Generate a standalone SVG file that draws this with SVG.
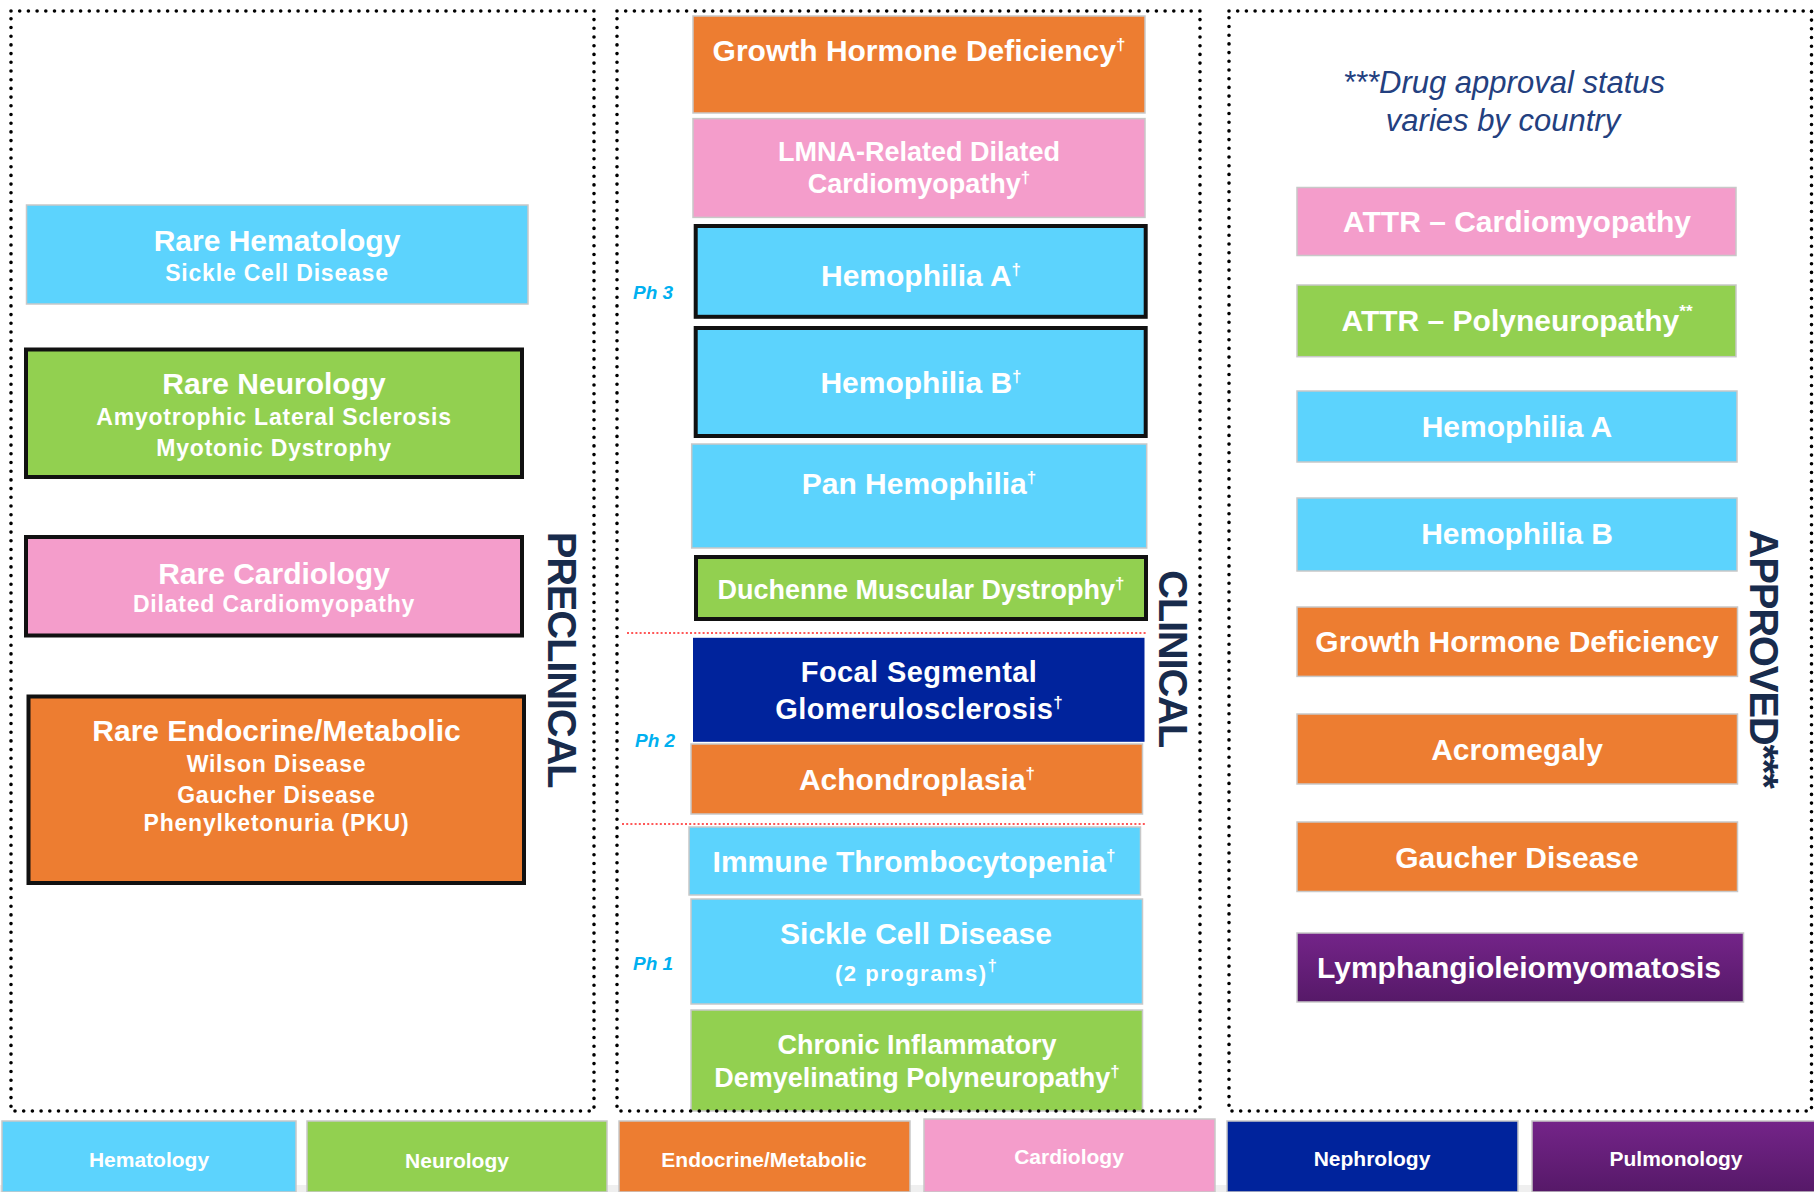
<svg xmlns="http://www.w3.org/2000/svg" width="1814" height="1192" viewBox="0 0 1814 1192">
<defs>
<style>
.t{font-family:"Liberation Sans",Arial,sans-serif;font-weight:bold;fill:#fff;text-anchor:middle;font-size:30px}
.s27{font-size:27px}
.s29{font-size:29px;letter-spacing:0.4px}
.s21{font-size:22px;letter-spacing:1.5px}
.sub{font-size:23px;letter-spacing:0.8px}
.lg{font-size:21px}
.sup{font-size:17px;letter-spacing:0}
.bk{stroke:#111;stroke-width:4}
.lt{stroke:#C8C8C8;stroke-width:1.5}
.blue{fill:#5CD3FD}
.green{fill:#92D050}
.orange{fill:#ED7D31}
.pink{fill:#F49DCB}
.navy{fill:#00239C}
.purple{fill:url(#pg)}
.ph{font-family:"Liberation Sans",Arial,sans-serif;font-weight:bold;font-style:italic;font-size:19px;fill:#00B0F0}
.vt{font-family:"Liberation Sans",Arial,sans-serif;font-weight:bold;font-size:40px;fill:#182B4C;letter-spacing:-1.2px;text-anchor:middle}
.note{font-family:"Liberation Sans",Arial,sans-serif;font-style:italic;font-size:31px;fill:#23407F;text-anchor:middle}
.dotbox{fill:none;stroke:#000;stroke-width:3.6;stroke-dasharray:0 8.7;stroke-linecap:round}
.red{stroke:#FF2020;stroke-width:1.6;stroke-dasharray:2 2.2;fill:none}
</style>
<linearGradient id="pg" x1="0" y1="0" x2="0" y2="1">
<stop offset="0" stop-color="#742489"/>
<stop offset="1" stop-color="#561968"/>
</linearGradient>
</defs>
<rect width="1814" height="1192" fill="#fff"/>

<g id="preclinical">
<g id="pre-hematology">
<rect class="blue lt" x="26.5" y="205" width="501.5" height="99"/>
<text class="t" x="277" y="251">Rare Hematology</text>
<text class="t sub" x="277" y="281">Sickle Cell Disease</text>
</g>
<g id="pre-neurology">
<rect class="green bk" x="26" y="349.5" width="496" height="127.5"/>
<text class="t" x="274" y="394">Rare Neurology</text>
<text class="t sub" x="274" y="425">Amyotrophic Lateral Sclerosis</text>
<text class="t sub" x="274" y="456">Myotonic Dystrophy</text>
</g>
<g id="pre-cardiology">
<rect class="pink bk" x="26" y="537" width="496" height="98.5"/>
<text class="t" x="274" y="584">Rare Cardiology</text>
<text class="t sub" x="274" y="612">Dilated Cardiomyopathy</text>
</g>
<g id="pre-endocrine">
<rect class="orange bk" x="28.5" y="696.5" width="495.5" height="186.5"/>
<text class="t" x="276.5" y="741">Rare Endocrine/Metabolic</text>
<text class="t sub" x="276.5" y="772">Wilson Disease</text>
<text class="t sub" x="276.5" y="802.5">Gaucher Disease</text>
<text class="t sub" x="276.5" y="831">Phenylketonuria (PKU)</text>
</g>
<text class="vt" transform="translate(548,659.5) rotate(90)">PRECLINICAL</text>
</g>

<g id="clinical">
<g id="cl-ghd">
<rect class="orange lt" x="693" y="16" width="452" height="97"/>
<text class="t" x="919" y="60.5">Growth Hormone Deficiency<tspan class="sup" dy="-11">†</tspan></text>
</g>
<g id="cl-lmna">
<rect class="pink lt" x="693" y="118.6" width="452" height="98.8"/>
<text class="t s27" x="919" y="161">LMNA-Related Dilated</text>
<text class="t s27" x="919" y="193">Cardiomyopathy<tspan class="sup" dy="-10">†</tspan></text>
</g>
<g id="cl-hema">
<rect class="blue bk" x="695.7" y="226" width="450" height="90.8"/>
<text class="t" x="921" y="286">Hemophilia A<tspan class="sup" dy="-11">†</tspan></text>
</g>
<g id="cl-hemb">
<rect class="blue bk" x="695.7" y="328" width="450" height="108"/>
<text class="t" x="921" y="393">Hemophilia B<tspan class="sup" dy="-11">†</tspan></text>
</g>
<g id="cl-panhem">
<rect class="blue lt" x="691.7" y="444" width="455" height="104"/>
<text class="t" x="919" y="494">Pan Hemophilia<tspan class="sup" dy="-11">†</tspan></text>
</g>
<g id="cl-dmd">
<rect class="green bk" x="696" y="557" width="450" height="62"/>
<text class="t s27" x="921" y="599">Duchenne Muscular Dystrophy<tspan class="sup" dy="-10">†</tspan></text>
</g>
<g id="cl-fsgs">
<rect class="navy" x="693" y="637.8" width="451.5" height="104"/>
<text class="t s29" x="919" y="682">Focal Segmental</text>
<text class="t s29" x="919" y="718.6">Glomerulosclerosis<tspan class="sup" dy="-11">†</tspan></text>
</g>
<g id="cl-achon">
<rect class="orange lt" x="691" y="744" width="451.5" height="70"/>
<text class="t" x="917" y="790">Achondroplasia<tspan class="sup" dy="-11">†</tspan></text>
</g>
<g id="cl-itp">
<rect class="blue lt" x="689" y="827" width="451.5" height="68"/>
<text class="t" x="914" y="872">Immune Thrombocytopenia<tspan class="sup" dy="-11">†</tspan></text>
</g>
<g id="cl-scd">
<rect class="blue lt" x="691" y="899" width="451.5" height="105"/>
<text class="t" x="916" y="944">Sickle Cell Disease</text>
<text class="t s21" x="916" y="981">(2 programs)<tspan class="sup" dy="-10">†</tspan></text>
</g>
<g id="cl-cidp">
<rect class="green lt" x="691" y="1010" width="451.5" height="101"/>
<text class="t s27" x="917" y="1054">Chronic Inflammatory</text>
<text class="t s27" x="917" y="1087">Demyelinating Polyneuropathy<tspan class="sup" dy="-10">†</tspan></text>
</g>
<text class="ph" x="633" y="298.5">Ph 3</text>
<text class="ph" x="635" y="747">Ph 2</text>
<text class="ph" x="633" y="970">Ph 1</text>
<text class="vt" transform="translate(1159,658.5) rotate(90)">CLINICAL</text>
</g>

<g id="approved">
<text class="note" x="1504" y="92.6">***Drug approval status</text>
<text class="note" x="1503" y="131">varies by country</text>
<g id="ap-attr-cm">
<rect class="pink lt" x="1297" y="187.5" width="439" height="68"/>
<text class="t" x="1517" y="231.5">ATTR – Cardiomyopathy</text>
</g>
<g id="ap-attr-pn">
<rect class="green lt" x="1297" y="285" width="439" height="71.7"/>
<text class="t" x="1517" y="331">ATTR – Polyneuropathy<tspan class="sup" dy="-14">**</tspan></text>
</g>
<g id="ap-hema">
<rect class="blue lt" x="1297" y="391" width="440" height="71"/>
<text class="t" x="1517" y="437">Hemophilia A</text>
</g>
<g id="ap-hemb">
<rect class="blue lt" x="1297" y="498" width="440" height="73"/>
<text class="t" x="1517" y="544">Hemophilia B</text>
</g>
<g id="ap-ghd">
<rect class="orange lt" x="1297" y="607" width="440.5" height="69.4"/>
<text class="t" x="1517" y="652">Growth Hormone Deficiency</text>
</g>
<g id="ap-acro">
<rect class="orange lt" x="1297" y="714" width="440.5" height="70"/>
<text class="t" x="1517" y="760">Acromegaly</text>
</g>
<g id="ap-gaucher">
<rect class="orange lt" x="1297" y="822" width="440.5" height="69.5"/>
<text class="t" x="1517" y="868">Gaucher Disease</text>
</g>
<g id="ap-lam">
<rect class="purple lt" x="1297" y="933" width="446.5" height="69"/>
<text class="t" x="1519" y="978">Lymphangioleiomyomatosis</text>
</g>
<text class="vt" transform="translate(1749.5,658.5) rotate(90)">APPROVED***</text>
</g>

<g id="connectors">
<line class="red" x1="627" y1="633" x2="1146" y2="633"/>
<line class="red" x1="622" y1="824" x2="1146" y2="824"/>
</g>

<g id="containers">
<rect class="dotbox" x="11" y="11" width="583" height="1100"/>
<rect class="dotbox" x="617" y="11" width="583" height="1100"/>
<rect class="dotbox" x="1229" y="11" width="582.5" height="1100"/>
</g>

<g id="legend">
<rect x="0" y="1185" width="1814" height="7" fill="#EFEFEF"/>
<g id="lg-hematology">
<rect class="blue lt" x="2" y="1121" width="294" height="71"/>
<text class="t lg" x="149" y="1167">Hematology</text>
</g>
<g id="lg-neurology">
<rect class="green lt" x="307" y="1121" width="300" height="71"/>
<text class="t lg" x="457" y="1168">Neurology</text>
</g>
<g id="lg-endocrine">
<rect class="orange lt" x="619" y="1121" width="291" height="71"/>
<text class="t lg" x="764" y="1166.5">Endocrine/Metabolic</text>
</g>
<g id="lg-cardiology">
<rect class="pink lt" x="924" y="1119" width="291" height="73"/>
<text class="t lg" x="1069" y="1164">Cardiology</text>
</g>
<g id="lg-nephrology">
<rect class="navy lt" x="1227" y="1121" width="291" height="71"/>
<text class="t lg" x="1372" y="1166">Nephrology</text>
</g>
<g id="lg-pulmonology">
<rect class="purple lt" x="1532" y="1121" width="284" height="71"/>
<text class="t lg" x="1676" y="1166">Pulmonology</text>
</g>
</g>
</svg>
